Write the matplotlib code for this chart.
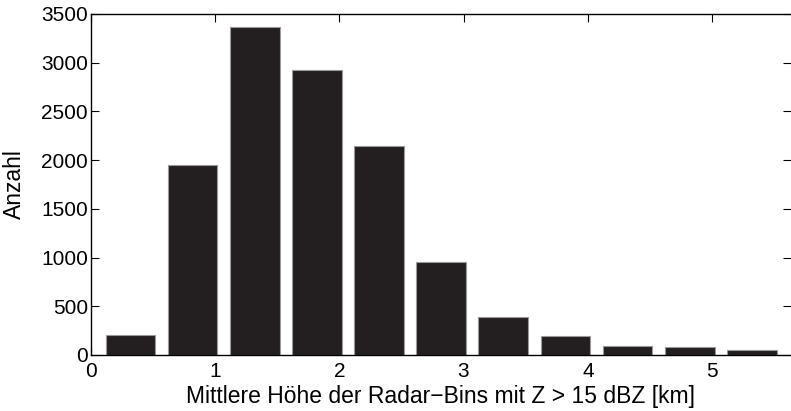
import matplotlib
matplotlib.use("Agg")
import matplotlib.pyplot as plt
import numpy as np

# Histogram of mean radar-bin height (11 bins, 0.5 km wide)
bin_centers = [0.32, 0.82, 1.32, 1.82, 2.32, 2.82, 3.32, 3.82, 4.32, 4.82, 5.32]
counts = [205, 1950, 3370, 2925, 2145, 955, 393, 198, 92, 82, 51]
x_ticks = [0, 1, 2, 3, 4, 5]
y_ticks = [0, 500, 1000, 1500, 2000, 2500, 3000, 3500]

plt.rcParams['font.family'] = ['Liberation Sans', 'DejaVu Sans']

fig = plt.figure(figsize=(7.91, 4.11), dpi=100)
ax = fig.add_axes([0.1147, 0.1363, 0.8853, 0.8297])

ax.bar(bin_centers, counts, width=0.4, color='#231f20',
       edgecolor='#9a9a9a', linewidth=0.8, zorder=2)

ax.set_xlim(0, 5.635)
ax.set_ylim(0, 3500)
ax.set_xticks(x_ticks)
ax.set_yticks(y_ticks)

ax.tick_params(direction='in', top=True, right=True, length=6,
               width=0.8, labelsize=15)
ax.tick_params(axis='x', pad=5)
ax.tick_params(axis='y', pad=2)
for s in ax.spines.values():
    s.set_linewidth(1.0)
ax.spines['right'].set_visible(False)

ax.set_xlabel('Mittlere Höhe der Radar\u2212Bins mit Z > 15 dBZ [km]',
              fontsize=16.5, labelpad=3)
ax.set_ylabel('Anzahl', fontsize=16.5, labelpad=11)

fig.savefig('out.png', dpi=100)
